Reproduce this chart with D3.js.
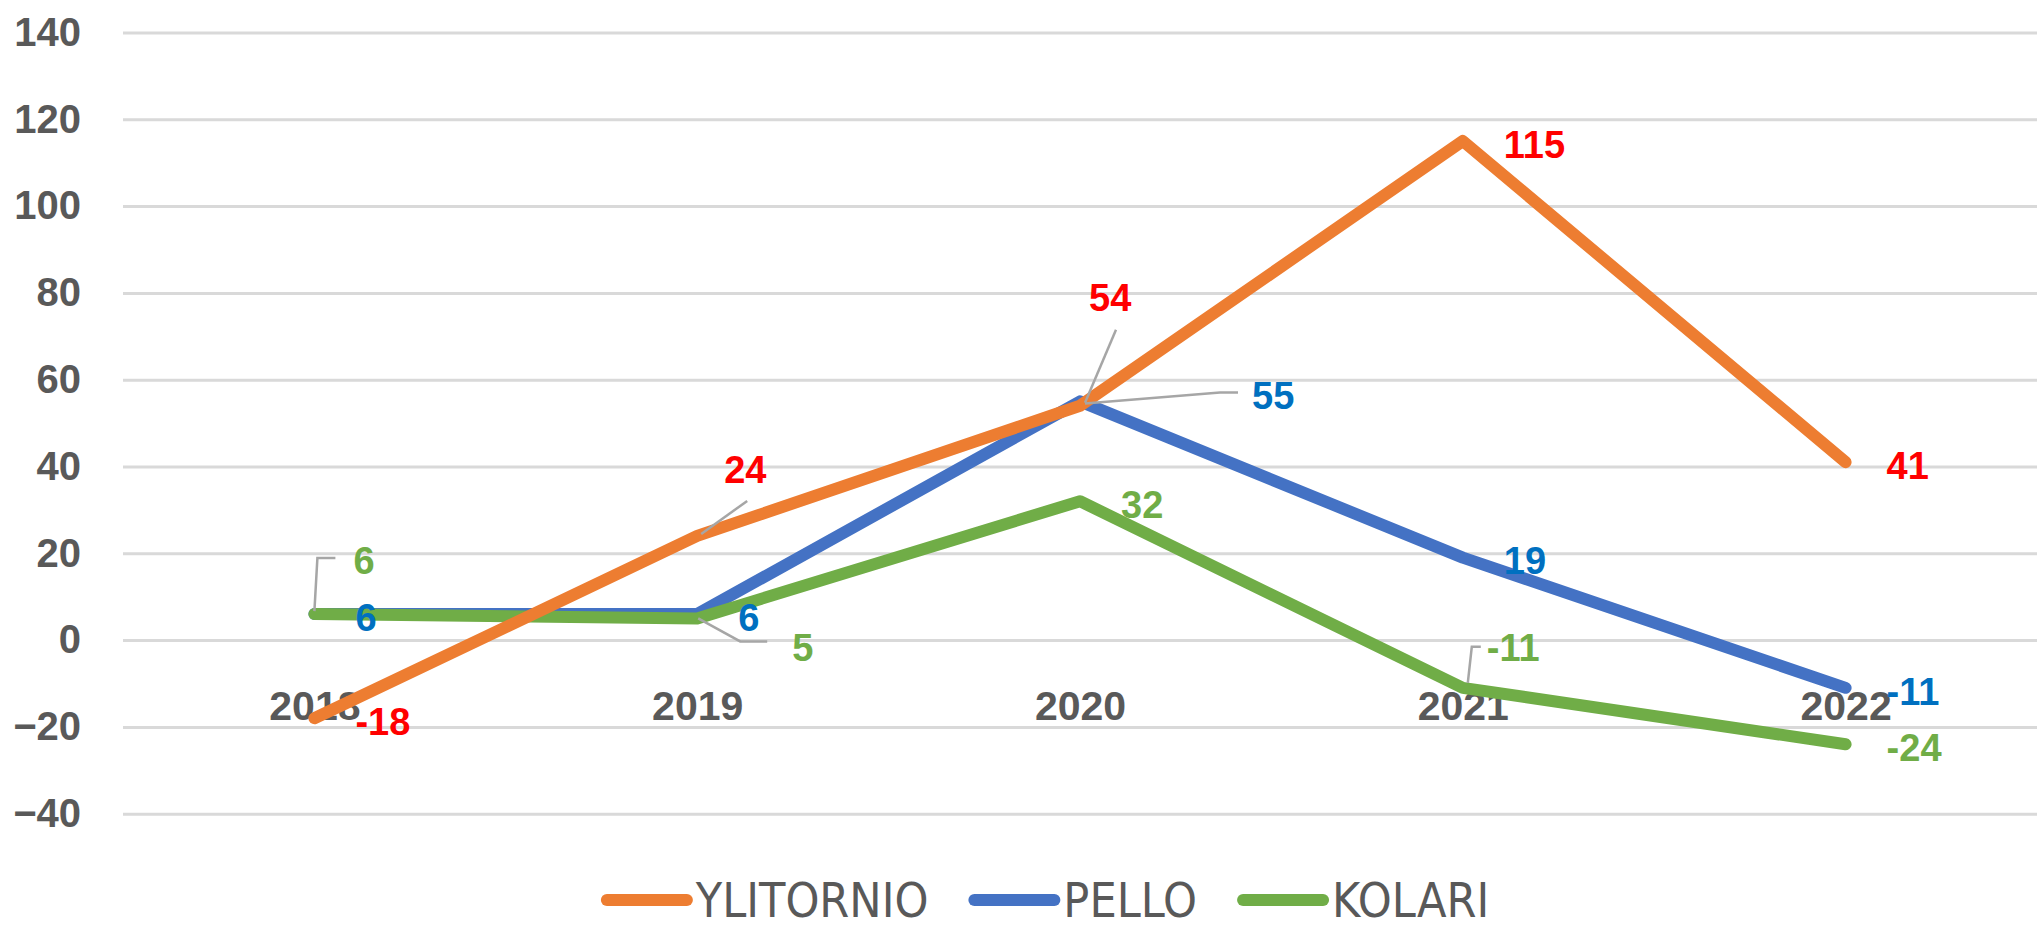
<html>
  <head>
    <meta charset="utf-8">
    <title>YLITORNIO PELLO KOLARI</title>
    <script src="https://d3js.org/d3.v7.min.js"></script>
    <style>
      body { margin: 0; background: #fff; }
    </style>
  </head>
  <body>
    <svg id="visual" width="2037" height="931"></svg>
    <script type="text/javascript">

    // values
    var years = ["2018", "2019", "2020", "2021", "2022"];
    var ylitornio = [-18, 24, 54, 115, 41];
    var pello = [6, 6, 55, 19, -11];
    var kolari = [6, 5, 32, -11, -24];
    var yTicks = [-40, -20, 0, 20, 40, 60, 80, 100, 120, 140];

    var seriesNames = ["YLITORNIO", "PELLO", "KOLARI"];
    var lineColors = { YLITORNIO: "#ED7D31", PELLO: "#4472C4", KOLARI: "#70AD47" };
    var labelColors = { YLITORNIO: "#FF0000", PELLO: "#0070C0", KOLARI: "#70AD47" };

    // labels that were dragged away from their point, with leader lines (px, relative to point)
    var movedLabels = [
        { s: "YLITORNIO", i: 1, dx: 27, dy: -67, leader: [[4, -2], [50, -35]] },
        { s: "YLITORNIO", i: 2, dx: 9, dy: -108, leader: [[5, -3], [36, -76]] },
        { s: "PELLO", i: 2, dx: 172, dy: -6, leader: [[5, 2], [140, -9], [158, -9]] },
        { s: "KOLARI", i: 0, dx: 39, dy: -54, leader: [[0, -3], [3, -56], [21, -56]] },
        { s: "KOLARI", i: 1, dx: 95, dy: 29, leader: [[1, 0], [43, 23], [70, 23]] },
        { s: "KOLARI", i: 3, dx: 24, dy: -41, leader: [[5, -5], [9, -41], [18, -41]] }
    ];

    var width = 2037, height = 931;
    var plotLeft = 123, plotTop = 32.5, plotBottom = 813.7;
    var numFont = "'Liberation Sans', Arial, sans-serif";

    var svg = d3.select("#visual");

    var x = d3.scalePoint()
        .domain(years)
        .range([plotLeft, width])
        .padding(0.5);

    var y = d3.scaleLinear()
        .domain([-40, 140])
        .range([plotBottom, plotTop]);

    // gridlines + y labels
    var yAxis = svg.append("g")
        .attr("transform", "translate(" + plotLeft + ",0)")
        .call(d3.axisLeft(y)
            .tickValues(yTicks)
            .tickSize(-(width - plotLeft))
            .tickPadding(42)
            .tickFormat(d3.format("d")));
    yAxis.select(".domain").remove();
    yAxis.selectAll(".tick line")
        .attr("stroke", "#D9D9D9")
        .attr("stroke-width", 3);
    yAxis.selectAll(".tick text")
        .attr("fill", "#595959")
        .attr("font-family", numFont)
        .attr("font-weight", "bold")
        .attr("font-size", 40);

    // category labels sit below the zero line
    var xAxis = svg.append("g")
        .attr("transform", "translate(0," + y(0) + ")")
        .call(d3.axisBottom(x).tickSize(0).tickPadding(51));
    xAxis.select(".domain").remove();
    xAxis.selectAll(".tick text")
        .attr("fill", "#595959")
        .attr("font-family", numFont)
        .attr("font-weight", "bold")
        .attr("font-size", 41);

    var seriesData = {
        YLITORNIO: ylitornio,
        PELLO: pello,
        KOLARI: kolari
    };

    var line = d3.line()
        .x(function(d, i) { return x(years[i]); })
        .y(function(d) { return y(d); });

    // drawing order: blue under green, orange on top
    ["PELLO", "KOLARI", "YLITORNIO"].forEach(function(name) {
        svg.append("path")
            .datum(seriesData[name])
            .attr("d", line)
            .attr("fill", "none")
            .attr("stroke", lineColors[name])
            .attr("stroke-width", 12)
            .attr("stroke-linejoin", "round")
            .attr("stroke-linecap", "round");
    });

    // data labels
    var labels = svg.append("g");
    seriesNames.forEach(function(name) {
        seriesData[name].forEach(function(v, i) {
            var px = x(years[i]), py = y(v);
            var moved = movedLabels.find(function(m) { return m.s == name && m.i == i; });
            var dx = moved ? moved.dx : 41;
            var dy = moved ? moved.dy : 3;
            if (moved) {
                labels.append("path")
                    .attr("d", d3.line()(moved.leader.map(function(p) { return [px + p[0], py + p[1]]; })))
                    .attr("fill", "none")
                    .attr("stroke", "#A6A6A6")
                    .attr("stroke-width", 2.5);
            }
            labels.append("text")
                .attr("x", px + dx)
                .attr("y", py + dy)
                .attr("dy", "0.36em")
                .attr("fill", labelColors[name])
                .attr("font-family", numFont)
                .attr("font-weight", "bold")
                .attr("font-size", 38)
                .text(v);
        });
    });

    // legend
    var legend = svg.append("g");
    var cursor = 0;
    seriesNames.forEach(function(name) {
        var g = legend.append("g");
        g.append("line")
            .attr("x1", 6).attr("x2", 86)
            .attr("y1", 0).attr("y2", 0)
            .attr("stroke", lineColors[name])
            .attr("stroke-width", 12)
            .attr("stroke-linecap", "round");
        var t = g.append("text")
            .attr("x", 95)
            .attr("dy", "0.36em")
            .attr("fill", "#595959")
            .attr("font-family", "'Liberation Sans Narrow', 'Arial Narrow', 'DejaVu Sans Condensed', sans-serif")
            .attr("font-size", 48)
            .text(name);
        var w = 95 + t.node().getComputedTextLength();
        g.attr("transform", "translate(" + cursor + ",0)");
        cursor += w + 40;
    });
    var total = cursor - 40;
    legend.attr("transform", "translate(" + (1045 - total / 2) + ",900)");

    </script>
  </body>
</html>
